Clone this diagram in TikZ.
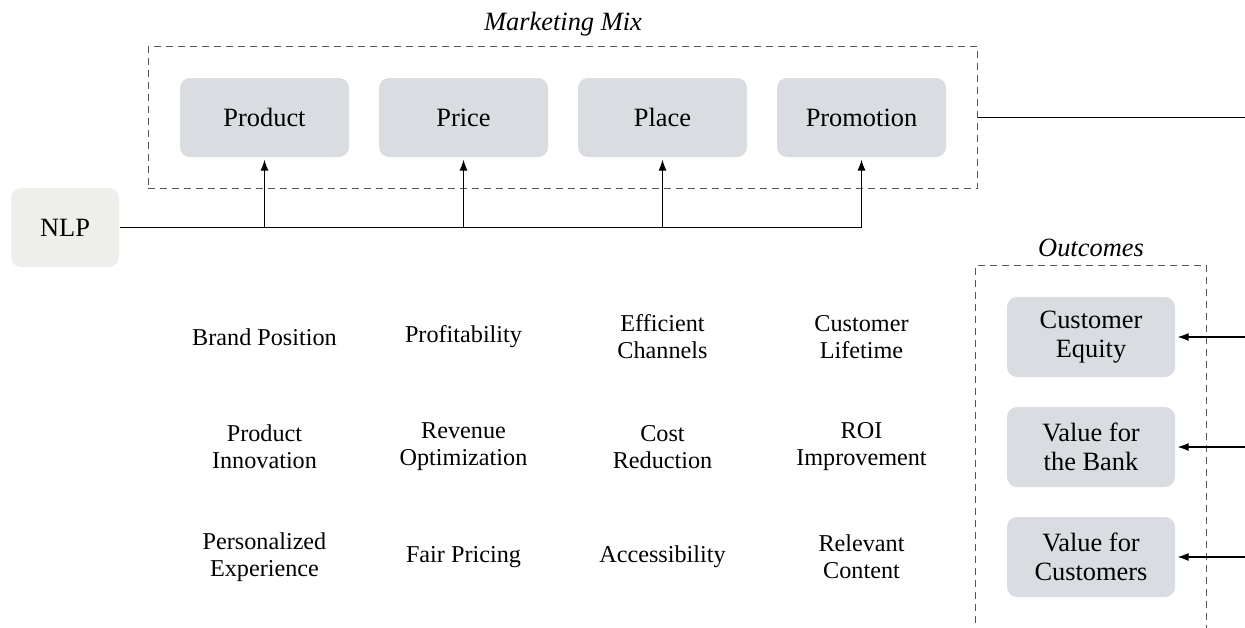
\documentclass[tikz,border=0pt]{standalone}
\usepackage{fontspec}
\setmainfont{Liberation Serif}
\usepackage{tikz}
\usetikzlibrary{arrows.meta, positioning, fit}

\definecolor{mixgray}{HTML}{D9DDE1}
\definecolor{nlpbeige}{HTML}{EEEFEA}
\definecolor{dashgray}{HTML}{555555}

\tikzset{
  mixbox/.style={fill=mixgray, rounded corners=5pt, minimum width=84.5pt,
    minimum height=39.5pt, align=center, font=\fontsize{13.2}{14.5}\selectfont},
  nlpbox/.style={mixbox, fill=nlpbeige, minimum width=54pt},
  outbox/.style={mixbox, minimum width=84pt, minimum height=40pt},
  metric/.style={align=center, font=\fontsize{12.1}{13.5}\selectfont},
  frame/.style={draw=dashgray, dash pattern=on 3.5pt off 2.5pt, inner sep=15.5pt},
  grouplabel/.style={font=\fontsize{13.2}{14.5}\selectfont\itshape}
}

\begin{document}
\begin{tikzpicture}[x=0.5pt, y=-0.5pt, line width=0.6pt,
    >={Latex[length=5.5pt,width=4pt]}]
  \clip (0,0) rectangle (1245,627);
  \coordinate (rightedge) at (1250,0);

  % --- Marketing mix ---
  \node[mixbox] (product)   at (264.5,117.5) {Product};
  \node[mixbox] (price)     at (463.5,117.5) {Price};
  \node[mixbox] (place)     at (662.5,117.5) {Place};
  \node[mixbox] (promotion) at (861.5,117.5) {Promotion};
  \node[frame, fit=(product)(promotion)] (mix) {};
  \node[grouplabel] (mixlabel) at ([yshift=11pt]mix.north) {Marketing Mix};
  \draw (mix.east) -- (mix.east -| rightedge);

  % --- NLP feeds every P ---
  \node[nlpbox] (nlp) at (65,227.5) {NLP};
  \draw (nlp.east) -- (nlp.east -| promotion.south);
  \foreach \b in {product,price,place,promotion}
    \draw[->, shorten >=1pt] (nlp.east -| \b.south) -- (\b.south);

  % --- Outcomes ---
  \node[outbox] (equity)    at (1091,337) {Customer\\Equity};
  \node[outbox] (bank)      at (1091,447) {Value for\\the Bank};
  \node[outbox] (customers) at (1091,557) {Value for\\Customers};
  \node[frame, fit=(equity)(customers)] (outcomes) {};
  \node[grouplabel] (outlabel) at ([yshift=8.5pt]outcomes.north) {Outcomes};
  \foreach \o in {equity,bank,customers}
    \draw[<-, shorten <=1pt] (\o.east) -- (\o.east -| rightedge);

  % --- Effects per P ---
  \node[metric] (brand)      at (product |- equity)      {Brand Position};
  \node[metric] (innovation) at (product |- bank)        {Product\\Innovation};
  \node[metric] (personal)   at (product |- customers)   {Personalized\\Experience};
  \node[metric] (profit)     at (price |- equity)        {Profitability};
  \node[metric] (revenue)    at (price |- bank)          {Revenue\\Optimization};
  \node[metric] (fair)       at (price |- customers)     {Fair Pricing};
  \node[metric] (channels)   at (place |- equity)        {Efficient\\Channels};
  \node[metric] (cost)       at (place |- bank)          {Cost\\Reduction};
  \node[metric] (access)     at (place |- customers)     {Accessibility};
  \node[metric] (lifetime)   at (promotion |- equity)    {Customer\\Lifetime};
  \node[metric] (roi)        at (promotion |- bank)      {ROI\\Improvement};
  \node[metric] (content)    at (promotion |- customers) {Relevant\\Content};
\end{tikzpicture}
\end{document}
